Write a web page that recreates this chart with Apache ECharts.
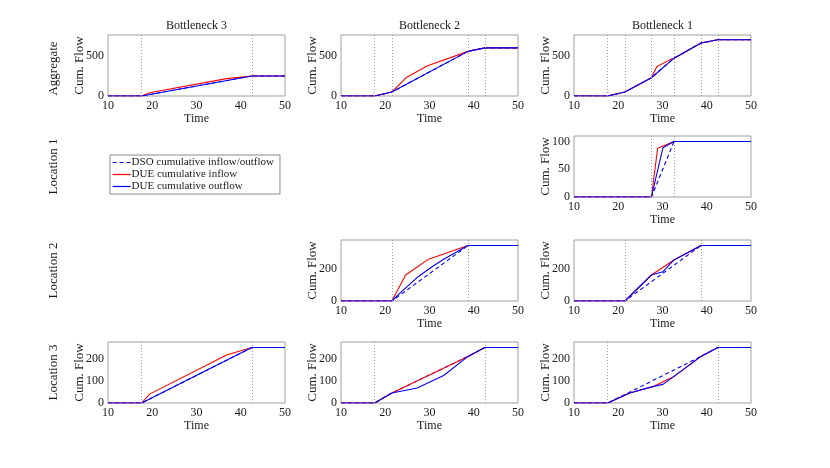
<!DOCTYPE html>
<html><head><meta charset="utf-8">
<script src="https://cdn.jsdelivr.net/npm/echarts@6/dist/echarts.min.js"></script>
<style>html,body{margin:0;padding:0;background:#fff}#c{width:830px;height:468px}</style>
</head><body><div id="c"></div>
<script>
const columnTitles = ['Bottleneck 3', 'Bottleneck 2', 'Bottleneck 1'];
const rowTitles = ['Aggregate', 'Location 1', 'Location 2', 'Location 3'];
const seriesNames = ['DSO cumulative inflow/outflow', 'DUE cumulative inflow', 'DUE cumulative outflow'];
const timeTicks = [10, 20, 30, 40, 50];
const rowYMax = [760, 110, 385, 275];
const rowYStep = [500, 50, 200, 100];

// Aggregate, Bottleneck 3
const aggB3In  = [[10,0],[17.6,0],[19.4,40],[36.8,216],[42.5,250],[50,250]];
const aggB3Out = [[10,0],[17.6,0],[42.5,250],[50,250]];
const aggB3Dso = [[10,0],[17.6,0],[42.5,250],[50,250]];
const aggB3Events = [17.6, 42.5];
// Aggregate, Bottleneck 2
const aggB2In  = [[10,0],[17.6,0],[21.5,50],[24.8,231],[29.4,374],[38.7,556],[42.5,600],[50,600]];
const aggB2Out = [[10,0],[17.6,0],[21.5,50],[38.7,556],[42.5,600],[50,600]];
const aggB2Dso = [[10,0],[17.6,0],[21.5,50],[38.7,556],[42.5,600],[50,600]];
const aggB2Events = [17.6, 21.5, 38.7, 42.5];
// Aggregate, Bottleneck 1
const aggB1In  = [[10,0],[17.6,0],[21.5,50],[27.5,227],[28.7,365],[31.6,450],[32.6,471],[38.7,660],[42.5,700],[50,700]];
const aggB1Out = [[10,0],[17.6,0],[21.5,50],[27.5,227],[32.6,471],[38.7,660],[42.5,700],[50,700]];
const aggB1Dso = [[10,0],[17.6,0],[21.5,50],[27.5,227],[32.6,471],[38.7,660],[42.5,700],[50,700]];
const aggB1Events = [17.6, 21.5, 27.5, 32.6, 38.7, 42.5];
// Location 1, Bottleneck 1
const loc1B1In  = [[10,0],[27.5,0],[28.9,88],[32.6,100],[50,100]];
const loc1B1Out = [[10,0],[27.5,0],[30.1,89],[32.6,100],[50,100]];
const loc1B1Dso = [[10,0],[27.5,0],[32.6,100],[50,100]];
const loc1B1Events = [27.5, 32.6];
// Location 2, Bottleneck 2
const loc2B2In  = [[10,0],[21.5,0],[24.6,164],[29.8,264],[33.2,297],[38.7,350],[50,350]];
const loc2B2Out = [[10,0],[21.5,0],[23.5,55],[27.5,155],[30.5,215],[33.2,264],[38.7,350],[50,350]];
const loc2B2Dso = [[10,0],[21.5,0],[38.7,350],[50,350]];
const loc2B2Events = [21.5, 38.7];
// Location 2, Bottleneck 1
const loc2B1In  = [[10,0],[21.5,0],[27.5,164],[32.6,259],[38.7,350],[50,350]];
const loc2B1Out = [[10,0],[21.5,0],[27.5,164],[30.1,185],[32.6,259],[38.7,350],[50,350]];
const loc2B1Dso = [[10,0],[21.5,0],[38.7,350],[50,350]];
const loc2B1Events = [21.5, 38.7];
// Location 3, Bottleneck 3
const loc3B3In  = [[10,0],[17.6,0],[19.4,40],[36.8,216],[42.5,250],[50,250]];
const loc3B3Out = [[10,0],[17.6,0],[42.5,250],[50,250]];
const loc3B3Dso = [[10,0],[17.6,0],[42.5,250],[50,250]];
const loc3B3Events = [17.6, 42.5];
// Location 3, Bottleneck 2
const loc3B2In  = [[10,0],[17.6,0],[21.5,45],[38.7,210],[42.5,250],[50,250]];
const loc3B2Out = [[10,0],[17.6,0],[21.5,45],[27.2,68],[33.2,124],[38.7,210],[42.5,250],[50,250]];
const loc3B2Dso = [[10,0],[17.6,0],[21.5,45],[38.7,210],[42.5,250],[50,250]];
const loc3B2Events = [17.6, 42.5];
// Location 3, Bottleneck 1
const loc3B1In  = [[10,0],[17.6,0],[22.6,45],[28,75],[32.6,120],[38.7,210],[42.5,250],[50,250]];
const loc3B1Out = [[10,0],[17.6,0],[22.6,45],[28,75],[30.1,84],[32.6,120],[38.7,210],[42.5,250],[50,250]];
const loc3B1Dso = [[10,0],[17.6,0],[21.5,38],[38.7,210],[42.5,250],[50,250]];
const loc3B1Events = [17.6, 42.5];

const panels = [
  {row:0, col:0, dso:aggB3Dso, inflow:aggB3In, outflow:aggB3Out, events:aggB3Events},
  {row:0, col:1, dso:aggB2Dso, inflow:aggB2In, outflow:aggB2Out, events:aggB2Events},
  {row:0, col:2, dso:aggB1Dso, inflow:aggB1In, outflow:aggB1Out, events:aggB1Events},
  {row:1, col:2, dso:loc1B1Dso, inflow:loc1B1In, outflow:loc1B1Out, events:loc1B1Events},
  {row:2, col:1, dso:loc2B2Dso, inflow:loc2B2In, outflow:loc2B2Out, events:loc2B2Events},
  {row:2, col:2, dso:loc2B1Dso, inflow:loc2B1In, outflow:loc2B1Out, events:loc2B1Events},
  {row:3, col:0, dso:loc3B3Dso, inflow:loc3B3In, outflow:loc3B3Out, events:loc3B3Events},
  {row:3, col:1, dso:loc3B2Dso, inflow:loc3B2In, outflow:loc3B2Out, events:loc3B2Events},
  {row:3, col:2, dso:loc3B1Dso, inflow:loc3B1In, outflow:loc3B1Out, events:loc3B1Events}
];

const colLeft = [108, 341, 574];
const colWidth = 177;
const rowTop = [35, 136, 240, 342];
const rowHeight = 61;
const FONT = '"Liberation Serif", "Times New Roman", serif';
const TXT = '#1a1a1a';
const BLUE = '#0000ff';
const RED = '#ff0000';

const grids = [], xAxes = [], yAxes = [], series = [];
panels.forEach((p, i) => {
  grids.push({
    left: colLeft[p.col], top: rowTop[p.row], width: colWidth, height: rowHeight,
    show: true, borderColor: '#a0a0a0', borderWidth: 1, backgroundColor: '#fff'
  });
  xAxes.push({
    gridIndex: i, type: 'value', min: timeTicks[0], max: timeTicks[timeTicks.length - 1],
    interval: timeTicks[1] - timeTicks[0],
    name: 'Time', nameLocation: 'middle', nameGap: 17, nameMoveOverlap: false,
    nameTextStyle: {fontFamily: FONT, fontSize: 12, color: TXT},
    axisLine: {show: false}, axisTick: {show: false}, splitLine: {show: false},
    axisLabel: {fontFamily: FONT, fontSize: 12, color: TXT, margin: 4}
  });
  yAxes.push({
    gridIndex: i, type: 'value', min: 0, max: rowYMax[p.row], interval: rowYStep[p.row],
    name: 'Cum. Flow', nameLocation: 'middle', nameGap: 22, nameMoveOverlap: false,
    nameTextStyle: {fontFamily: FONT, fontSize: 13, color: TXT},
    axisLine: {show: false}, axisTick: {show: false}, splitLine: {show: false},
    axisLabel: {fontFamily: FONT, fontSize: 12, color: TXT, margin: 4, showMaxLabel: false}
  });
  series.push({
    name: seriesNames[0], type: 'line', xAxisIndex: i, yAxisIndex: i, data: p.dso,
    symbol: 'none', lineStyle: {color: BLUE, width: 1.1, type: [4, 3]}, itemStyle: {color: BLUE},
    silent: true, animation: false, z: 2,
    markLine: {
      silent: true, symbol: ['none', 'none'], label: {show: false}, animation: false,
      lineStyle: {color: '#9a9a9a', width: 1, type: [1, 2]},
      data: p.events.map(t => ({xAxis: t}))
    }
  });
  series.push({
    name: seriesNames[1], type: 'line', xAxisIndex: i, yAxisIndex: i, data: p.inflow,
    symbol: 'none', lineStyle: {color: RED, width: 1.1}, itemStyle: {color: RED},
    silent: true, animation: false, z: 3
  });
  series.push({
    name: seriesNames[2], type: 'line', xAxisIndex: i, yAxisIndex: i, data: p.outflow,
    symbol: 'none', lineStyle: {color: BLUE, width: 1.1}, itemStyle: {color: BLUE},
    silent: true, animation: false, z: 4
  });
});

const graphics = [];
columnTitles.forEach((t, c) => {
  graphics.push({type: 'text', x: colLeft[c] + colWidth / 2, y: 26,
    style: {text: t, fontFamily: FONT, fontSize: 12, fill: TXT, align: 'center', verticalAlign: 'middle'}});
});
rowTitles.forEach((t, r) => {
  graphics.push({type: 'text', x: 54, y: rowTop[r] + rowHeight / 2 + (r === 0 ? 3 : 0), rotation: Math.PI / 2,
    style: {text: t, fontFamily: FONT, fontSize: 13, fill: TXT, align: 'center', verticalAlign: 'middle'}});
});

const chart = echarts.init(document.getElementById('c'), null, {renderer: 'canvas'});
chart.setOption({
  backgroundColor: '#fff',
  animation: false,
  grid: grids, xAxis: xAxes, yAxis: yAxes, series: series,
  legend: {
    data: seriesNames, orient: 'vertical', left: 110, top: 155,
    backgroundColor: '#fff', borderColor: '#8a8a8a', borderWidth: 1,
    padding: [2, 6, 2, 2], itemGap: 1, itemWidth: 18, itemHeight: 10,
    selectedMode: false,
    itemStyle: {opacity: 0},
    lineStyle: {width: 1.2},
    textStyle: {fontFamily: FONT, fontSize: 11, color: TXT, padding: [0, 0, 0, -4]}
  },
  graphic: graphics
});
</script></body></html>
